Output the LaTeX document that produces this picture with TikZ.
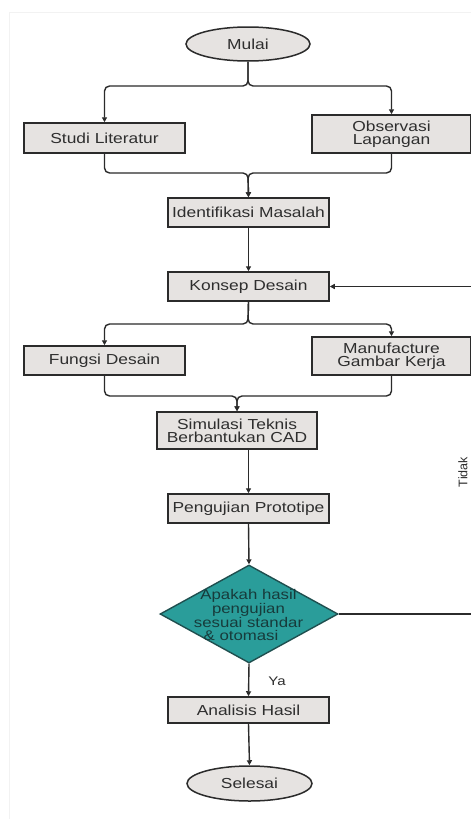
\documentclass[tikz,border=0pt]{standalone}
\usepackage{fontspec}
\setmainfont{Liberation Sans}[FakeStretch=1.2]
\newfontfamily\plainfont{Liberation Sans}
\usetikzlibrary{shapes.geometric,arrows.meta}
\definecolor{boxfill}{HTML}{E6E3E1}
\definecolor{linec}{HTML}{2B2B2B}
\definecolor{txt}{HTML}{2E2E2E}
\definecolor{teal}{HTML}{2A9D9A}
\definecolor{tealdark}{HTML}{1F4F4F}
\definecolor{tealtxt}{HTML}{173B3B}
\tikzset{
  procbox/.style={draw=linec, line width=1.5pt, fill=boxfill, inner sep=0pt, text=txt,
    align=center, font={\fontsize{14.5}{13.2}\selectfont}},
  termnode/.style={ellipse, draw=linec, line width=1.5pt, fill=boxfill, inner sep=0pt, text=txt,
    font={\fontsize{14.5}{13.2}\selectfont}},
  conn/.style={draw=linec, line width=1.4pt, rounded corners=5pt,
    -{Triangle[length=5pt,width=5pt]}},
}
\begin{document}
\begin{tikzpicture}[x=1pt,y=-1pt]
\useasboundingbox (0,0) rectangle (471,819);
\fill[white] (0,0) rectangle (471,819);
\draw[gray!10, line width=0.8pt] (9,819) -- (9,12) -- (471,12);
\begin{scope}
\clip (0,0) rectangle (471,819);
% nodes
\node[termnode, minimum width=124pt, minimum height=34pt] (mulai) at (248,44) {Mulai};
\node[procbox, minimum width=161pt, minimum height=30pt] (studi) at (104.5,138) {Studi Literatur};
\node[procbox, minimum width=159pt, minimum height=38pt] (obs) at (391.5,134) {Observasi\\Lapangan};
\node[procbox, minimum width=161pt, minimum height=29pt] (ident) at (248.5,212.5) {Identifikasi Masalah};
\node[procbox, minimum width=161pt, minimum height=29pt] (konsep) at (248.5,286.5) {Konsep Desain};
\node[procbox, minimum width=161pt, minimum height=29pt] (fungsi) at (104.5,360.5) {Fungsi Desain};
\node[procbox, minimum width=159pt, minimum height=38pt] (manuf) at (391.5,356) {Manufacture\\Gambar Kerja};
\node[procbox, minimum width=160pt, minimum height=37pt] (sim) at (237,430.5) {Simulasi Teknis\\Berbantukan CAD};
\node[procbox, minimum width=161pt, minimum height=29pt] (peng) at (248.5,508.5) {Pengujian Prototipe};
\node[diamond, draw=tealdark, line width=1.4pt, fill=teal, inner sep=0pt,
      minimum width=178pt, minimum height=98pt] (dec) at (249,614) {};
\node[text=tealtxt, align=center, inner sep=0pt, font={\fontsize{14}{12.6}\selectfont}] (dectext) at (248.5,615)
  {Apakah hasil\\pengujian\\sesuai standar\\\& otomasi\hspace*{15pt}};
\node[procbox, minimum width=161pt, minimum height=26pt] (anal) at (248.5,710) {Analisis Hasil};
\node[termnode, minimum width=125pt, minimum height=35pt] (selesai) at (249.5,783.5) {Selesai};
% labels
\node[text=txt, font={\fontsize{12.5}{14}\selectfont}] (ya) at (277,681) {Ya};
\node[text=txt, rotate=90, font={\plainfont\fontsize{12.5}{14}\selectfont}] (tidak) at (463,472) {Tidak};
% coordinates
\coordinate (fork1) at (248,86);
\coordinate (merge1) at (248,173);
\coordinate (fork2) at (248,324);
\coordinate (merge2) at (237,396);
\coordinate (lr) at (476,614);
\coordinate (ur) at (476,286.5);
% connectors
\draw[conn] (mulai.south) -- (fork1) -| (studi.north);
\draw[conn] (mulai.south) -- (fork1) -| (obs.north);
\draw[conn] (studi.south) |- (merge1) -- (ident.north);
\draw[conn] (obs.south) |- (merge1) -- (ident.north);
\draw[conn] (ident.south) -- (konsep.north);
\draw[conn] (konsep.south) -- (fork2) -| (fungsi.north);
\draw[conn] (konsep.south) -- (fork2) -| (manuf.north);
\draw[conn] (fungsi.south) |- (merge2) -- (sim.north);
\draw[conn] (manuf.south) |- (merge2) -- (sim.north);
\draw[conn] (peng.north |- sim.south) -- (peng.north);
\draw[conn] (peng.south) -- (dec.north);
\draw[conn] (dec.south) -- (anal.north);
\draw[conn] (anal.south) -- (selesai.north);
\draw[conn, rounded corners=0pt] (dec.east) -- (lr) -- (ur) -- (konsep.east);
\end{scope}
\end{tikzpicture}
\end{document}
